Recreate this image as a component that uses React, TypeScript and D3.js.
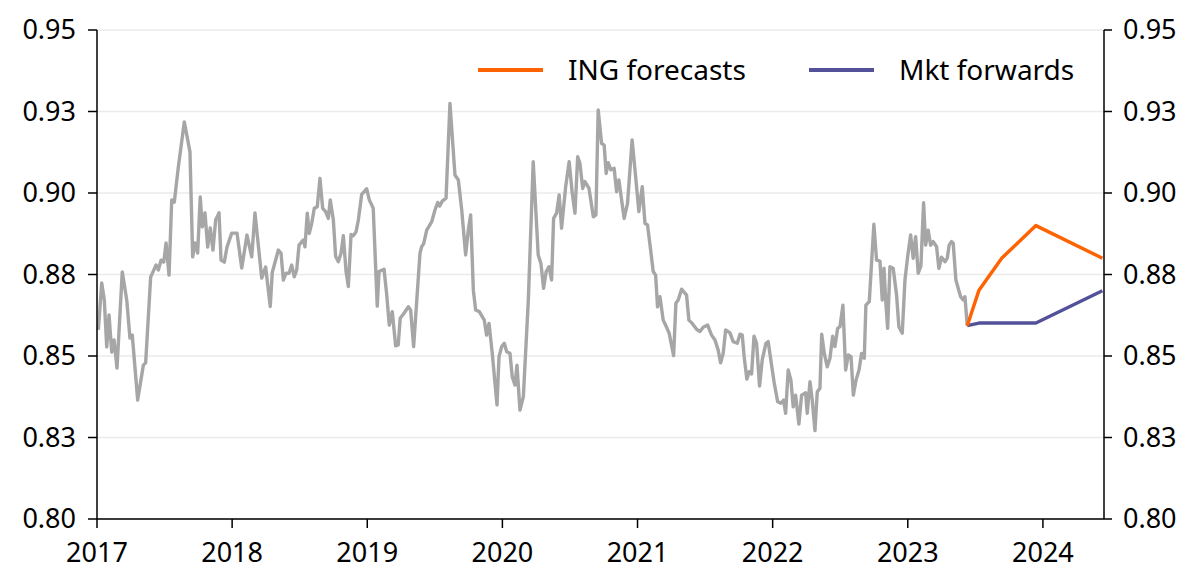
import React from "react";
import * as d3 from "d3";

// EUR/GBP spot history (decimal year, value)
const histYears: number[] = [
  2017.010, 2017.035, 2017.054, 2017.072, 2017.089, 2017.109, 2017.126, 2017.148, 2017.187, 2017.220,
  2017.244, 2017.261, 2017.301, 2017.343, 2017.360, 2017.397, 2017.437, 2017.454, 2017.474, 2017.494,
  2017.511, 2017.533, 2017.553, 2017.572, 2017.602, 2017.646, 2017.688, 2017.708, 2017.725, 2017.745,
  2017.764, 2017.779, 2017.799, 2017.819, 2017.838, 2017.858, 2017.878, 2017.903, 2017.918, 2017.942,
  2017.962, 2017.997, 2018.036, 2018.071, 2018.110, 2018.145, 2018.169, 2018.219, 2018.248, 2018.282,
  2018.297, 2018.342, 2018.362, 2018.379, 2018.399, 2018.421, 2018.441, 2018.460, 2018.478, 2018.495,
  2018.527, 2018.539, 2018.556, 2018.571, 2018.589, 2018.608, 2018.630, 2018.650, 2018.670, 2018.692,
  2018.712, 2018.726, 2018.749, 2018.766, 2018.786, 2018.806, 2018.823, 2018.843, 2018.860, 2018.880,
  2018.897, 2018.917, 2018.934, 2018.959, 2018.996, 2019.015, 2019.033, 2019.044, 2019.074, 2019.087,
  2019.124, 2019.143, 2019.163, 2019.185, 2019.210, 2019.229, 2019.244, 2019.272, 2019.304, 2019.321,
  2019.343, 2019.365, 2019.390, 2019.402, 2019.417, 2019.440, 2019.459, 2019.477, 2019.501, 2019.521,
  2019.536, 2019.555, 2019.583, 2019.612, 2019.649, 2019.674, 2019.699, 2019.728, 2019.748, 2019.765,
  2019.785, 2019.802, 2019.829, 2019.866, 2019.883, 2019.901, 2019.925, 2019.960, 2019.975, 2019.995,
  2020.014, 2020.032, 2020.056, 2020.073, 2020.093, 2020.108, 2020.130, 2020.155, 2020.192, 2020.228,
  2020.265, 2020.285, 2020.305, 2020.324, 2020.345, 2020.364, 2020.379, 2020.401, 2020.420, 2020.438,
  2020.468, 2020.494, 2020.517, 2020.537, 2020.557, 2020.574, 2020.594, 2020.611, 2020.641, 2020.673,
  2020.692, 2020.709, 2020.734, 2020.753, 2020.768, 2020.783, 2020.803, 2020.827, 2020.845, 2020.862,
  2020.882, 2020.901, 2020.926, 2020.960, 2020.986, 2021.010, 2021.035, 2021.055, 2021.074, 2021.097,
  2021.116, 2021.134, 2021.148, 2021.166, 2021.190, 2021.215, 2021.234, 2021.267, 2021.284, 2021.301,
  2021.326, 2021.363, 2021.380, 2021.405, 2021.437, 2021.462, 2021.486, 2021.519, 2021.548, 2021.573,
  2021.597, 2021.615, 2021.634, 2021.652, 2021.684, 2021.708, 2021.738, 2021.758, 2021.775, 2021.789,
  2021.809, 2021.826, 2021.844, 2021.862, 2021.881, 2021.903, 2021.923, 2021.950, 2021.967, 2021.992,
  2022.012, 2022.037, 2022.061, 2022.081, 2022.096, 2022.115, 2022.135, 2022.152, 2022.170, 2022.194,
  2022.214, 2022.244, 2022.256, 2022.276, 2022.293, 2022.313, 2022.330, 2022.350, 2022.363, 2022.382,
  2022.404, 2022.424, 2022.444, 2022.461, 2022.481, 2022.498, 2022.520, 2022.540, 2022.560, 2022.580,
  2022.597, 2022.617, 2022.639, 2022.658, 2022.678, 2022.690, 2022.715, 2022.749, 2022.769, 2022.794,
  2022.811, 2022.824, 2022.838, 2022.851, 2022.868, 2022.892, 2022.917, 2022.934, 2022.959, 2022.979,
  2022.999, 2023.021, 2023.040, 2023.058, 2023.077, 2023.097, 2023.117, 2023.132, 2023.151, 2023.169,
  2023.188, 2023.213, 2023.230, 2023.250, 2023.275, 2023.292, 2023.306, 2023.324, 2023.336, 2023.356,
  2023.373, 2023.391, 2023.410, 2023.423, 2023.440,
];
const histValues: number[] = [
  0.8580, 0.8724, 0.8672, 0.8528, 0.8626, 0.8512, 0.8549, 0.8463, 0.8758, 0.8672,
  0.8555, 0.8564, 0.8365, 0.8472, 0.8479, 0.8742, 0.8779, 0.8764, 0.8794, 0.8788,
  0.8847, 0.8748, 0.8979, 0.8972, 0.9080, 0.9218, 0.9126, 0.8804, 0.8847, 0.8816,
  0.8988, 0.8896, 0.8939, 0.8834, 0.8893, 0.8825, 0.8917, 0.8939, 0.8794, 0.8788,
  0.8834, 0.8877, 0.8877, 0.8770, 0.8871, 0.8804, 0.8939, 0.8739, 0.8773, 0.8652,
  0.8756, 0.8825, 0.8815, 0.8733, 0.8754, 0.8754, 0.8779, 0.8743, 0.8764, 0.8840,
  0.8856, 0.8835, 0.8938, 0.8876, 0.8907, 0.8953, 0.8958, 0.9045, 0.8953, 0.8943,
  0.8922, 0.8979, 0.8917, 0.8805, 0.8789, 0.8815, 0.8869, 0.8759, 0.8713, 0.8873,
  0.8869, 0.8881, 0.8917, 0.8996, 0.9013, 0.8979, 0.8963, 0.8953, 0.8653, 0.8759,
  0.8766, 0.8692, 0.8595, 0.8636, 0.8531, 0.8534, 0.8616, 0.8631, 0.8651, 0.8641,
  0.8529, 0.8662, 0.8815, 0.8835, 0.8844, 0.8886, 0.8899, 0.8912, 0.8948, 0.8971,
  0.8960, 0.8975, 0.8984, 0.9275, 0.9055, 0.9040, 0.8948, 0.8810, 0.8887, 0.8933,
  0.8702, 0.8641, 0.8636, 0.8610, 0.8564, 0.8600, 0.8508, 0.8350, 0.8498, 0.8529,
  0.8539, 0.8513, 0.8508, 0.8436, 0.8411, 0.8472, 0.8334, 0.8375, 0.8672, 0.9096,
  0.8810, 0.8784, 0.8708, 0.8759, 0.8774, 0.8733, 0.8922, 0.8938, 0.8994, 0.8892,
  0.9019, 0.9096, 0.8999, 0.8938, 0.9111, 0.9091, 0.9014, 0.9035, 0.9014, 0.8927,
  0.8933, 0.9255, 0.9152, 0.9147, 0.9060, 0.9093, 0.9071, 0.9076, 0.9004, 0.9040,
  0.8979, 0.8922, 0.8968, 0.9163, 0.9050, 0.8943, 0.9019, 0.8907, 0.8902, 0.8825,
  0.8759, 0.8748, 0.8651, 0.8682, 0.8610, 0.8588, 0.8570, 0.8501, 0.8662, 0.8672,
  0.8705, 0.8687, 0.8610, 0.8600, 0.8582, 0.8575, 0.8588, 0.8595, 0.8564, 0.8549,
  0.8518, 0.8479, 0.8508, 0.8580, 0.8571, 0.8544, 0.8539, 0.8567, 0.8564, 0.8498,
  0.8429, 0.8452, 0.8445, 0.8561, 0.8539, 0.8408, 0.8488, 0.8539, 0.8544, 0.8472,
  0.8416, 0.8360, 0.8355, 0.8365, 0.8324, 0.8457, 0.8426, 0.8344, 0.8380, 0.8291,
  0.8380, 0.8387, 0.8324, 0.8421, 0.8365, 0.8271, 0.8390, 0.8401, 0.8567, 0.8508,
  0.8467, 0.8493, 0.8561, 0.8529, 0.8585, 0.8590, 0.8656, 0.8457, 0.8503, 0.8498,
  0.8380, 0.8426, 0.8457, 0.8508, 0.8493, 0.8656, 0.8667, 0.8904, 0.8794, 0.8791,
  0.8672, 0.8769, 0.8662, 0.8585, 0.8774, 0.8769, 0.8687, 0.8590, 0.8570, 0.8733,
  0.8805, 0.8871, 0.8800, 0.8866, 0.8754, 0.8776, 0.8970, 0.8840, 0.8886, 0.8840,
  0.8851, 0.8835, 0.8769, 0.8803, 0.8789, 0.8800, 0.8840, 0.8851, 0.8846, 0.8733,
  0.8708, 0.8682, 0.8672, 0.8682, 0.8593,
];

// Forecast horizons: spot, 1M, 3M, 6M, 12M
const fcYears: number[] = [2023.44, 2023.527, 2023.695, 2023.948, 2024.44];
const ingForecasts: number[] = [0.8593, 0.8702, 0.8800, 0.8900, 0.8800];
const mktForwards: number[] = [0.8593, 0.8601, 0.8601, 0.8601, 0.8700];

const yTicks: number[] = [0.8, 0.825, 0.85, 0.875, 0.9, 0.925, 0.95];
const yTickLabels: string[] = ["0.80", "0.83", "0.85", "0.88", "0.90", "0.93", "0.95"];
const xTicks: number[] = [2017, 2018, 2019, 2020, 2021, 2022, 2023, 2024];
const legendItems = [
  { label: "ING forecasts", color: "#ff6200" },
  { label: "Mkt forwards", color: "#525199" },
];

const W = 1200;
const H = 588;
const M = { left: 97, right: 1104, top: 30, bottom: 519 };
const FONT = "'Noto Sans', sans-serif";

export default function App() {
  const x = d3.scaleLinear().domain([2017, 2024.452]).range([M.left, M.right]);
  const y = d3.scaleLinear().domain([0.8, 0.95]).range([M.bottom, M.top]);
  const line = d3
    .line<[number, number]>()
    .x((d) => x(d[0]))
    .y((d) => y(d[1]));

  const hist = histYears.map((t, i) => [t, histValues[i]] as [number, number]);
  const ing = fcYears.map((t, i) => [t, ingForecasts[i]] as [number, number]);
  const mkt = fcYears.map((t, i) => [t, mktForwards[i]] as [number, number]);
  const legendX = [478, 809];

  return (
    <svg
      width={W}
      height={H}
      style={{ position: "absolute", left: 0, top: 0, background: "#fff" }}
      fontFamily={FONT}
    >
      {/* gridlines */}
      {yTicks.map((t) => (
        <line key={"g" + t} x1={M.left} x2={M.right} y1={y(t)} y2={y(t)} stroke="#ebebeb" strokeWidth={1.5} />
      ))}
      {/* series */}
      <path d={line(hist) || ""} fill="none" stroke="#a6a6a6" strokeWidth={3.4} strokeLinejoin="round" />
      <path d={line(mkt) || ""} fill="none" stroke="#525199" strokeWidth={3.4} strokeLinejoin="round" />
      <path d={line(ing) || ""} fill="none" stroke="#ff6200" strokeWidth={3.4} strokeLinejoin="round" />

      {/* left axis */}
      <line x1={M.left} x2={M.left} y1={M.top} y2={M.bottom} stroke="#000" strokeWidth={1.5} />
      {yTicks.map((t, i) => (
        <g key={"l" + t}>
          <line x1={M.left - 9} x2={M.left} y1={y(t)} y2={y(t)} stroke="#000" strokeWidth={1.5} />
          <text x={M.left - 21} y={y(t)} dy="0.35em" textAnchor="end" fontSize={27} fill="#000">
            {yTickLabels[i]}
          </text>
        </g>
      ))}
      {/* right axis */}
      <line x1={M.right} x2={M.right} y1={M.top} y2={M.bottom} stroke="#000" strokeWidth={1.5} />
      {yTicks.map((t, i) => (
        <g key={"r" + t}>
          <line x1={M.right} x2={M.right + 8} y1={y(t)} y2={y(t)} stroke="#000" strokeWidth={1.5} />
          <text x={M.right + 19} y={y(t)} dy="0.35em" textAnchor="start" fontSize={27} fill="#000">
            {yTickLabels[i]}
          </text>
        </g>
      ))}
      {/* bottom axis */}
      <line x1={M.left} x2={M.right} y1={M.bottom} y2={M.bottom} stroke="#000" strokeWidth={1.5} />
      {xTicks.map((t) => (
        <g key={"x" + t}>
          <line x1={x(t)} x2={x(t)} y1={M.bottom} y2={M.bottom + 9} stroke="#000" strokeWidth={1.5} />
          <text x={x(t)} y={M.bottom + 43} textAnchor="middle" fontSize={27} fill="#000">
            {t}
          </text>
        </g>
      ))}

      {/* legend */}
      {legendItems.map((it, i) => (
        <g key={it.label}>
          <line x1={legendX[i]} x2={legendX[i] + 65} y1={70} y2={70} stroke={it.color} strokeWidth={4} />
          <text x={legendX[i] + 90} y={70} dy="0.35em" fontSize={28} fill="#000">
            {it.label}
          </text>
        </g>
      ))}
    </svg>
  );
}
